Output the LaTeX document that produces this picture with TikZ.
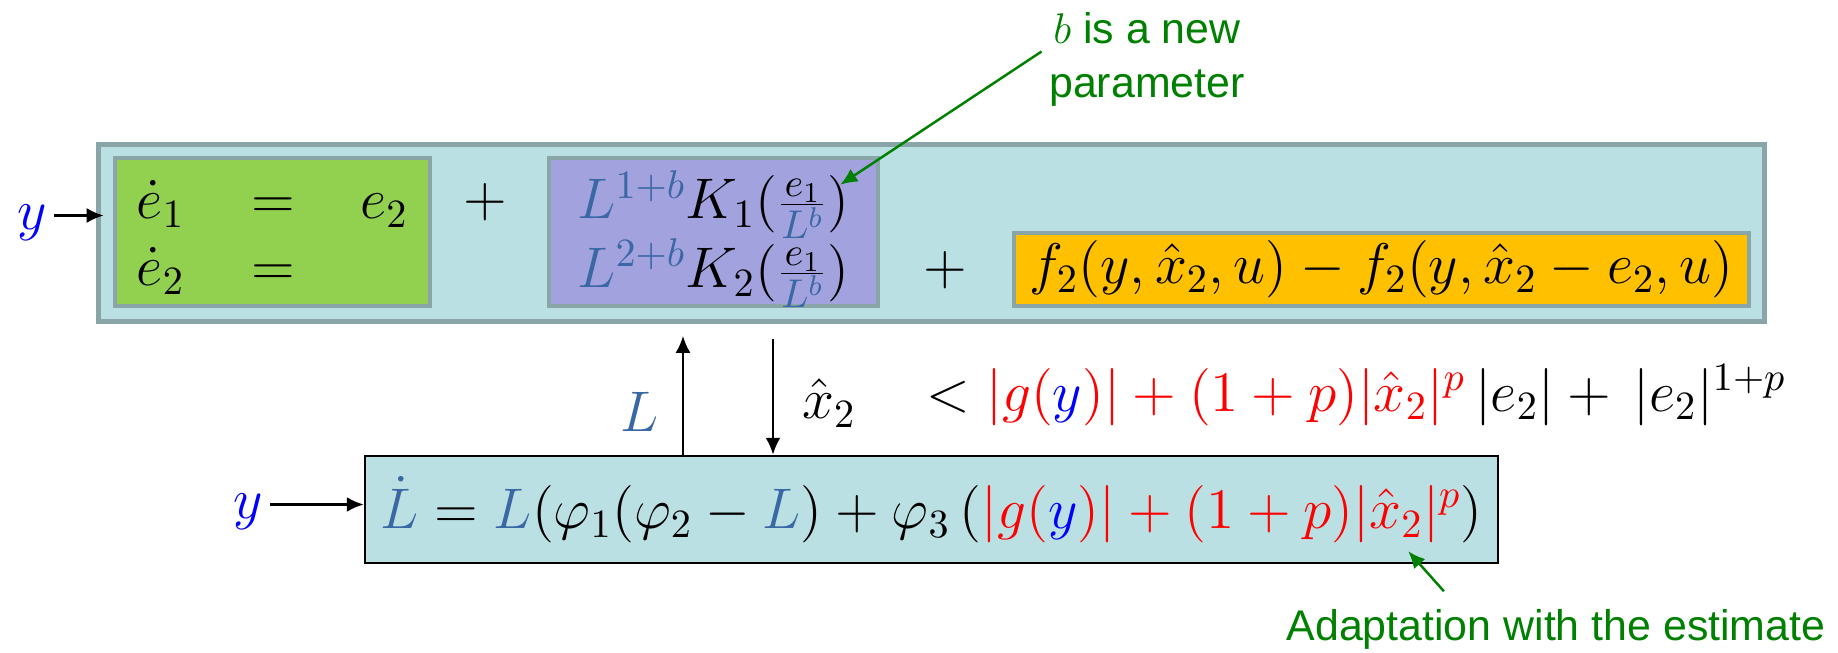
\documentclass[tikz,border=0pt]{standalone}
\usepackage{fix-cm}
\usepackage[no-math]{fontspec}
\newfontfamily\notefont{Liberation Sans}
\usetikzlibrary{arrows.meta}

\definecolor{sysfill}{RGB}{187,224,227}
\definecolor{edgegray}{RGB}{138,165,168}
\definecolor{lingreen}{RGB}{146,208,80}
\definecolor{gainblue}{RGB}{162,162,222}
\definecolor{nlorange}{RGB}{255,192,0}
\definecolor{notegreen}{RGB}{0,128,0}
\definecolor{Lblue}{RGB}{58,104,164}
\newcommand{\LL}{{\color{Lblue}L}}
\newcommand{\yy}{{\color{blue}y}}
\newcommand{\eqsize}{\fontsize{16.3}{19}\selectfont}
% move the two-row blocks a little lower in their boxes
\newcommand{\rowsdown}[1]{\raisebox{-0.7mm}[\height][\depth]{#1}}

\begin{document}
\begin{tikzpicture}[
    box/.style={rectangle, inner sep=0pt, font=\eqsize},
    sysbox/.style={box, draw=edgegray, fill=sysfill, line width=1.6pt},
    part/.style={box, draw=edgegray, line width=1.3pt},
    adaptbox/.style={box, draw=black, fill=sysfill, line width=0.7pt},
    mathlabel/.style={inner sep=2pt, font=\eqsize},
    note/.style={font=\notefont\fontsize{12.2}{15.4}\selectfont, text=notegreen, align=center, inner sep=2pt},
    arrow/.style={-{Latex[length=1.7mm,width=1.5mm]}, line width=0.7pt},
    notearrow/.style={arrow, notegreen},
]
\useasboundingbox (0,0) rectangle (18.38,6.52);

% Error dynamics
\node[sysbox, minimum width=16.66cm, minimum height=1.77cm] (sys) at (9.315,4.19) {};
\node[part, fill=lingreen, minimum width=3.15cm, minimum height=1.48cm] (lin) at (2.725,4.20)
    {\rowsdown{$\begin{array}{@{}l@{\hspace{0.67cm}}c@{\hspace{0.65cm}}l@{}} \dot e_1 & = & e_2\\ \dot e_2 & = & \end{array}$}};
\node[part, fill=gainblue, minimum width=3.29cm, minimum height=1.48cm] (gain) at (7.135,4.20)
    {\rowsdown{$\begin{array}{@{}l@{}} {\color{Lblue}L^{1+b}}K_1(\frac{e_1}{\color{Lblue}L^b})\\ {\color{Lblue}L^{2+b}}K_2(\frac{e_1}{\color{Lblue}L^b}) \end{array}$}};
\node[part, fill=nlorange, minimum width=7.35cm, minimum height=0.73cm] (nl) at (13.815,3.825)
    {$f_2(y,\hat x_2,u) - f_2(y,\hat x_2 - e_2,u)$};
\node[mathlabel] (plus1) at (4.85,4.50) {$+$};
\node[mathlabel] (plus2) at (9.45,3.82) {$+$};

% Adaptation law
\node[adaptbox, minimum width=11.33cm, minimum height=1.07cm] (adapt) at (9.315,1.425)
    {${\color{Lblue}\dot L} = \LL(\varphi_1(\varphi_2 - \LL) + \varphi_3\,({\color{red}|g(\yy)| + (1+p)|\hat x_2|^p})$};

% Signals
\node[mathlabel] (yin) at (0.32,4.29) {$\yy$};
\node[mathlabel] (yad) at (2.48,1.40) {$\yy$};
\node[mathlabel] (Lfb) at (6.40,2.40) {$\LL$};
\node[mathlabel] (xfb) at (8.29,2.49) {$\hat x_2$};
\node[mathlabel, anchor=west] (bound) at (9.19,2.57)
    {$< {\color{red}|g(\yy)| + (1+p)|\hat x_2|^p}\,|e_2| +\,|e_2|^{1+p}$};

\draw[arrow, shorten >=0.9mm] ([yshift=0.75mm]yin.east) -- ([yshift=0.75mm]yin.east -| lin.west);
\draw[arrow] ([yshift=0.75mm]yad.east) -- ([yshift=0.75mm]yad.east -| adapt.west);
\draw[arrow, shorten >=1.15mm] (6.83,0 |- adapt.north) -- (6.83,0 |- sys.south);
\draw[arrow, shorten <=1.5mm] (7.73,0 |- sys.south) -- (7.73,0 |- adapt.north);

% Notes
\node[note] (bnote) at (11.47,5.925) {$b$ is a new\\parameter};
\node[note] (anote) at (15.56,0.23) {Adaptation with the estimate};

\draw[notearrow] ([yshift=0.8mm]bnote.west) -- ([xshift=-0.40cm,yshift=-0.29cm]gain.north east);
\draw[notearrow] ([xshift=1.65cm,yshift=0.1cm]anote.north west) -- ([xshift=-0.91cm,yshift=0.13cm]adapt.south east);

\end{tikzpicture}
\end{document}
